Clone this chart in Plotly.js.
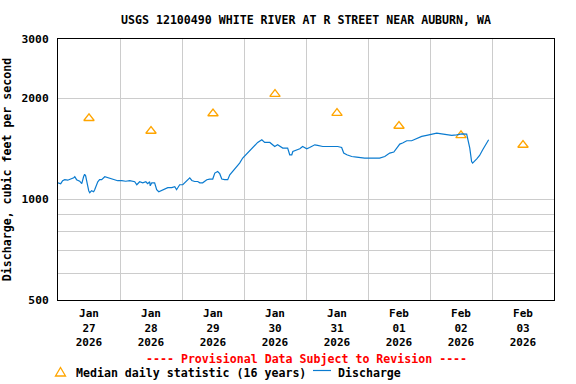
<!DOCTYPE html>
<html>
<head>
<meta charset="utf-8">
<script src="https://cdn.plot.ly/plotly-3.0.1.min.js"></script>
<style>html,body{margin:0;padding:0;background:#fff;}#chart{width:576px;height:384px;}</style>
</head>
<body>
<div id="chart"></div>
<script>
// ---- data ----
// hours since 2026-01-27 00:00
const dischargeHours = [0,1.05,1.8,2.6,3.75,4.9,6.1,6.5,7.2,8.4,9.2,9.9,10.3,10.7,11.1,11.5,11.9,12.3,13.0,13.8,14.2,15.0,15.4,16.1,16.9,18.1,19.2,20.4,21.9,23.1,24.7,26.2,27.8,29.7,30.5,31.6,32.8,34.0,34.7,35.5,35.7,36.3,37.4,37.8,38.2,39.0,40.1,41.3,42.5,44.0,45.2,45.9,47.1,48.3,49.0,50.2,51.0,51.8,52.9,54.1,54.9,56.0,57.6,58.7,59.9,60.7,61.8,62.6,63.4,64.5,65.7,66.5,67.6,69.2,70.3,71.5,72.7,73.4,75.0,76.1,77.3,78.9,80.0,82.0,83.9,85.0,87.0,87.8,88.9,89.7,90.5,90.9,92.4,93.6,94.7,96.3,97.4,99.4,100.5,102.5,104.4,106.3,108.3,109.8,110.6,111.8,113.7,115.6,117.6,118.7,120.7,122.6,124.5,126.5,128.4,130.0,131.1,132.3,133.4,135.0,136.9,138.9,140.8,142.7,144.7,146.6,148.5,150.5,152.4,154.3,156.3,158.2,158.6,159.4,160.1,160.5,162.1,163.2,164.4,166.0,166.7];
const dischargeCfs = [1118,1111,1134,1142,1138,1146,1157,1165,1142,1130,1111,1165,1185,1173,1142,1095,1059,1044,1059,1051,1066,1103,1126,1142,1142,1165,1157,1153,1142,1134,1134,1130,1134,1126,1103,1126,1118,1126,1111,1126,1095,1118,1118,1095,1066,1051,1059,1073,1081,1081,1088,1066,1103,1103,1116,1136,1157,1136,1128,1128,1118,1118,1142,1147,1147,1195,1208,1190,1147,1142,1142,1181,1208,1245,1280,1325,1355,1377,1419,1451,1475,1502,1475,1475,1434,1451,1419,1419,1419,1355,1355,1386,1403,1412,1434,1412,1425,1451,1445,1434,1434,1434,1434,1425,1371,1355,1339,1334,1325,1325,1325,1325,1325,1339,1371,1381,1419,1458,1469,1492,1492,1513,1537,1548,1565,1573,1565,1554,1548,1554,1565,1562,1520,1419,1294,1280,1318,1349,1403,1469,1502];

const medianDays = ['2026-01-27','2026-01-28','2026-01-29','2026-01-30','2026-01-31','2026-02-01','2026-02-02','2026-02-03'];
const medianCfs = [1741,1595,1799,2056,1804,1651,1548,1449];

const tickMonths = ['Jan','Jan','Jan','Jan','Jan','Feb','Feb','Feb'];
const tickDayNums = ['27','28','29','30','31','01','02','03'];
const tickYear = '2026';
const gridDays = ['2026-01-27','2026-01-28','2026-01-29','2026-01-30','2026-01-31','2026-02-01','2026-02-02','2026-02-03','2026-02-04'];

const yTickVals = [500,600,700,800,900,1000,2000,3000];
const yTickText = ['500','','','','','1000','2000','3000'];

const titleText = 'USGS 12100490 WHITE RIVER AT R STREET NEAR AUBURN, WA';
const yTitleText = 'Discharge, cubic feet per second';
const provisionalText = '---- Provisional Data Subject to Revision ----';
const medianName = 'Median daily statistic (16 years)';
const dischargeName = 'Discharge';

// ---- helpers ----
function pad(n){return (n<10?'0':'')+n;}
function hoursToDate(h){
  const t = new Date(Date.UTC(2026,0,27) + Math.round(h*3600000));
  return t.getUTCFullYear()+'-'+pad(t.getUTCMonth()+1)+'-'+pad(t.getUTCDate())+' '+pad(t.getUTCHours())+':'+pad(t.getUTCMinutes())+':'+pad(t.getUTCSeconds());
}
const dischargeX = dischargeHours.map(hoursToDate);
const medianX = medianDays.map(d => d+' 12:00');
const tickVals = medianDays.map(d => d+' 12:00');
const tickText = tickMonths.map((m,i)=>'<b>'+m+'<br>'+tickDayNums[i]+'<br>'+tickYear+'</b>');

// pixel -> paper helpers for the decoration below the plot
const L=58, R=554, T=39, B=300;
const px = x => (x-L)/(R-L);
const py = y => (B-y)/(B-T);

const FONT = 'DejaVu Sans Mono';
const FS = 11.6;
const BLUE = '#0a7bd0';
const ORANGE = '#ffa500';

const traces = [
  {
    x: medianX, y: medianCfs, type:'scatter', mode:'markers', name: medianName,
    marker:{symbol:'triangle-up-open', size:9, color:ORANGE, line:{width:1.3, color:ORANGE}},
    hoverinfo:'skip'
  },
  {
    x: dischargeX, y: dischargeCfs, type:'scatter', mode:'lines', name: dischargeName,
    line:{color:BLUE, width:1.2, shape:'linear'},
    hoverinfo:'skip'
  }
];

const layout = {
  width:576, height:384,
  margin:{l:L, r:576-R, t:T, b:384-B, pad:0},
  paper_bgcolor:'#ffffff', plot_bgcolor:'#ffffff',
  font:{family:FONT, size:FS, color:'#000000'},
  showlegend:false,
  title:{text:'<b>'+titleText+'</b>', xref:'paper', x:0.5, xanchor:'center',
         yref:'container', y:1-20/384, yanchor:'middle', font:{family:FONT, size:FS, color:'#000'}},
  xaxis:{
    type:'date', range:['2026-01-27 00:00','2026-02-04 00:00'],
    tickmode:'array', tickvals:tickVals, ticktext:tickText,
    showgrid:false, zeroline:false, ticks:'', ticklabelstandoff:3,
    showline:true, mirror:true, linecolor:'#000', linewidth:1,
    tickfont:{family:FONT, size:11, color:'#000'},
    minor:{tickmode:'array', tickvals:gridDays, showgrid:true, gridcolor:'#cccccc', gridwidth:1, ticks:''},
    fixedrange:true
  },
  yaxis:{
    type:'log', range:[Math.log10(500), Math.log10(3000)],
    tickmode:'array', tickvals:yTickVals, ticktext:yTickText.map(t=>t?'<b>'+t+'</b>':''),
    showgrid:true, gridcolor:'#cccccc', gridwidth:1, zeroline:false, ticks:'', ticklabelstandoff:6,
    showline:true, mirror:true, linecolor:'#000', linewidth:1,
    tickfont:{family:FONT, size:11.3, color:'#000'},
    title:{text:'<b>'+yTitleText+'</b>', standoff:10, font:{family:FONT, size:FS, color:'#000'}},
    fixedrange:true
  },
  annotations:[
    {text:'<b>'+provisionalText+'</b>', xref:'paper', yref:'paper', x:0.5, y:py(359),
     xanchor:'center', yanchor:'middle', showarrow:false, font:{family:FONT, size:FS, color:'#ff0000'}},
    {text:'<b>'+medianName+'</b>', xref:'paper', yref:'paper', x:px(73.5), y:py(372.5),
     xanchor:'left', yanchor:'middle', showarrow:false, font:{family:FONT, size:FS, color:'#000'}},
    {text:'<b>'+dischargeName+'</b>', xref:'paper', yref:'paper', x:px(335.5), y:py(372.5),
     xanchor:'left', yanchor:'middle', showarrow:false, font:{family:FONT, size:FS, color:'#000'}}
  ],
  shapes:[
    {type:'path', xref:'paper', yref:'paper',
     path:'M '+px(55.5)+' '+py(376)+' L '+px(65.5)+' '+py(376)+' L '+px(60.5)+' '+py(367.5)+' Z',
     line:{color:ORANGE, width:1.3}, fillcolor:'rgba(0,0,0,0)'},
    {type:'line', xref:'paper', yref:'paper', x0:px(313), x1:px(331), y0:py(370.5), y1:py(370.5),
     line:{color:BLUE, width:1.2}}
  ]
};

Plotly.newPlot('chart', traces, layout, {staticPlot:true, displayModeBar:false});
</script>
</body>
</html>
